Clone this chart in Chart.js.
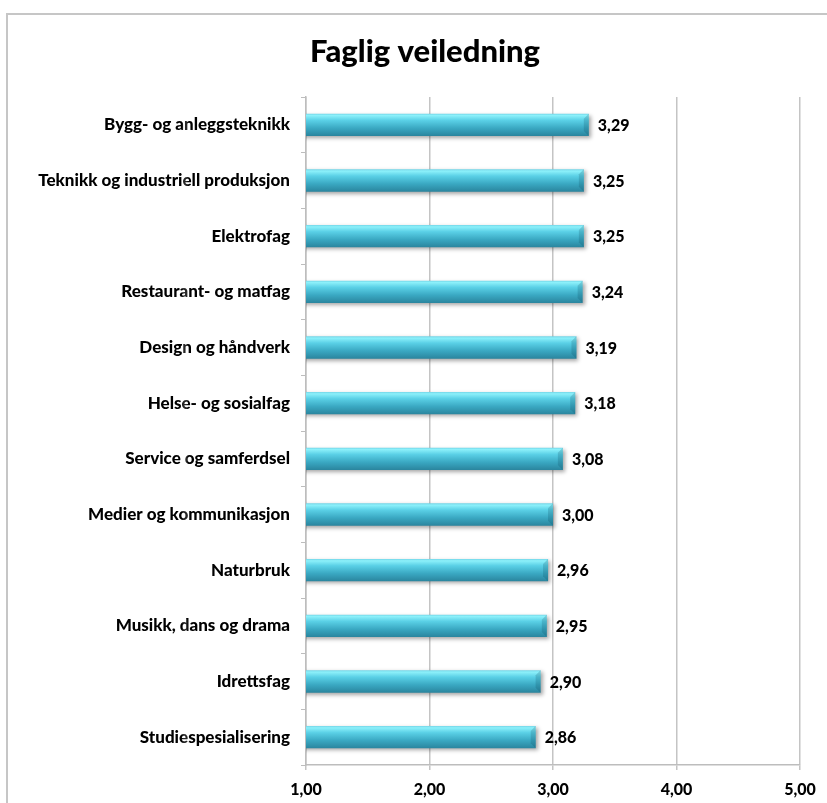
<!DOCTYPE html>
<html>
<head>
<meta charset="utf-8">
<script src="https://cdn.jsdelivr.net/npm/chart.js@4.4.1/dist/chart.umd.min.js"></script>
<style>
  html, body { margin: 0; padding: 0; background: #fff; }
  #wrap { position: relative; width: 827px; height: 803px; }
  #frame { position: absolute; left: 6px; top: 13px; right: -4px; bottom: -4px;
           border-left: 2px solid #c6c6c6; border-top: 2px solid #c6c6c6; }
  canvas { position: absolute; left: 0; top: 0; }
</style>
</head>
<body>
<div id="wrap">
  <div id="frame"></div>
  <canvas id="myChart" width="827" height="803"></canvas>
</div>
<script>
var chartTitle = 'Faglig veiledning';
var categories = [
    'Bygg- og anleggsteknikk',
    'Teknikk og industriell produksjon',
    'Elektrofag',
    'Restaurant- og matfag',
    'Design og håndverk',
    'Helse- og sosialfag',
    'Service og samferdsel',
    'Medier og kommunikasjon',
    'Naturbruk',
    'Musikk, dans og drama',
    'Idrettsfag',
    'Studiespesialisering'
];
var scores = [3.29, 3.25, 3.25, 3.24, 3.19, 3.18, 3.08, 3.00, 2.96, 2.95, 2.90, 2.86];
var axisMin = 1;
var axisMax = 5;

var FONT = 'Lato, "DejaVu Sans", sans-serif';
var BAR_PCT = 0.4;

function fmt(v) {
    return Number(v).toFixed(2).replace('.', ',');
}

// vertical cylinder shading for each bar, built from the y scale
function barFill(c) {
    var chart = c.chart;
    if (!chart.chartArea || !chart.scales.y) return '#4cc4dc';
    var y = chart.scales.y.getPixelForValue(c.dataIndex);
    var half = (chart.chartArea.height / categories.length) * BAR_PCT / 2;
    var g = chart.ctx.createLinearGradient(0, y - half, 0, y + half);
    g.addColorStop(0, '#74d6e8');
    g.addColorStop(0.08, '#8cf0fa');
    g.addColorStop(0.3, '#5ad0e6');
    g.addColorStop(0.65, '#3aa8c2');
    g.addColorStop(1, '#2a859e');
    return g;
}

// title centred inside the framed area rather than the whole canvas
var heading = {
    id: 'heading',
    afterDraw: function (chart) {
        var ctx = chart.ctx;
        ctx.save();
        ctx.fillStyle = '#000';
        ctx.font = '900 31px ' + FONT;
        ctx.textAlign = 'center';
        ctx.textBaseline = 'middle';
        ctx.fillText(chartTitle, (chart.width + 23) / 2, 52);
        ctx.restore();
    }
};

var barDecor = {
    id: 'barDecor',
    beforeDatasetsDraw: function (chart) {
        var ctx = chart.ctx;
        ctx.save();
        ctx.shadowColor = 'rgba(0,0,0,0.35)';
        ctx.shadowBlur = 4;
        ctx.shadowOffsetX = 2;
        ctx.shadowOffsetY = 2;
    },
    afterDatasetsDraw: function (chart) {
        var ctx = chart.ctx;
        ctx.restore();
        var meta = chart.getDatasetMeta(0);
        meta.data.forEach(function (el, i) {
            var top = el.y - el.height / 2;
            var bot = el.y + el.height / 2;
            var b = 5;
            // bevelled ends
            ctx.fillStyle = 'rgba(255,255,255,0.15)';
            ctx.beginPath();
            ctx.moveTo(el.base, top);
            ctx.lineTo(el.base + b, top + b);
            ctx.lineTo(el.base + b, bot - b);
            ctx.lineTo(el.base, bot);
            ctx.closePath();
            ctx.fill();
            ctx.fillStyle = 'rgba(10,70,90,0.2)';
            ctx.beginPath();
            ctx.moveTo(el.x, top);
            ctx.lineTo(el.x - b, top + b);
            ctx.lineTo(el.x - b, bot - b);
            ctx.lineTo(el.x, bot);
            ctx.closePath();
            ctx.fill();
            // value label
            ctx.fillStyle = '#000';
            ctx.font = '900 16px ' + FONT;
            ctx.textAlign = 'left';
            ctx.textBaseline = 'middle';
            ctx.fillText(fmt(scores[i]), el.x + 9, el.y + 1);
        });
    }
};

var ctx = document.getElementById('myChart').getContext('2d');
var myChart = new Chart(ctx, {
    type: 'bar',
    data: {
        labels: categories,
        datasets: [{
            data: scores,
            backgroundColor: barFill,
            borderWidth: 0,
            barPercentage: BAR_PCT,
            categoryPercentage: 1
        }]
    },
    options: {
        indexAxis: 'y',
        responsive: false,
        animation: false,
        layout: { padding: { left: 10, right: 27, top: 97, bottom: 0 } },
        plugins: {
            legend: { display: false },
            tooltip: { enabled: false },
            title: { display: false }
        },
        scales: {
            x: {
                min: axisMin,
                max: axisMax,
                ticks: {
                    stepSize: 1,
                    color: '#000',
                    padding: 10,
                    font: { family: FONT, size: 16, weight: '900' },
                    callback: function (v) { return fmt(v); }
                },
                grid: { color: '#c4c4c4', lineWidth: 1.5, tickLength: 5, drawTicks: true },
                border: { display: true, color: '#bdbdbd', width: 1.5 },
                afterFit: function (s) { s.height = 38; }
            },
            y: {
                ticks: {
                    color: '#000',
                    padding: 11,
                    autoSkip: false,
                    font: { family: FONT, size: 17, weight: '900' }
                },
                grid: { display: true, drawOnChartArea: false, color: '#bdbdbd', tickLength: 5 },
                border: { display: true, color: '#bdbdbd', width: 1.5 },
                afterFit: function (s) { s.width = 296; }
            }
        }
    },
    plugins: [barDecor, heading]
});
</script>
</body>
</html>
